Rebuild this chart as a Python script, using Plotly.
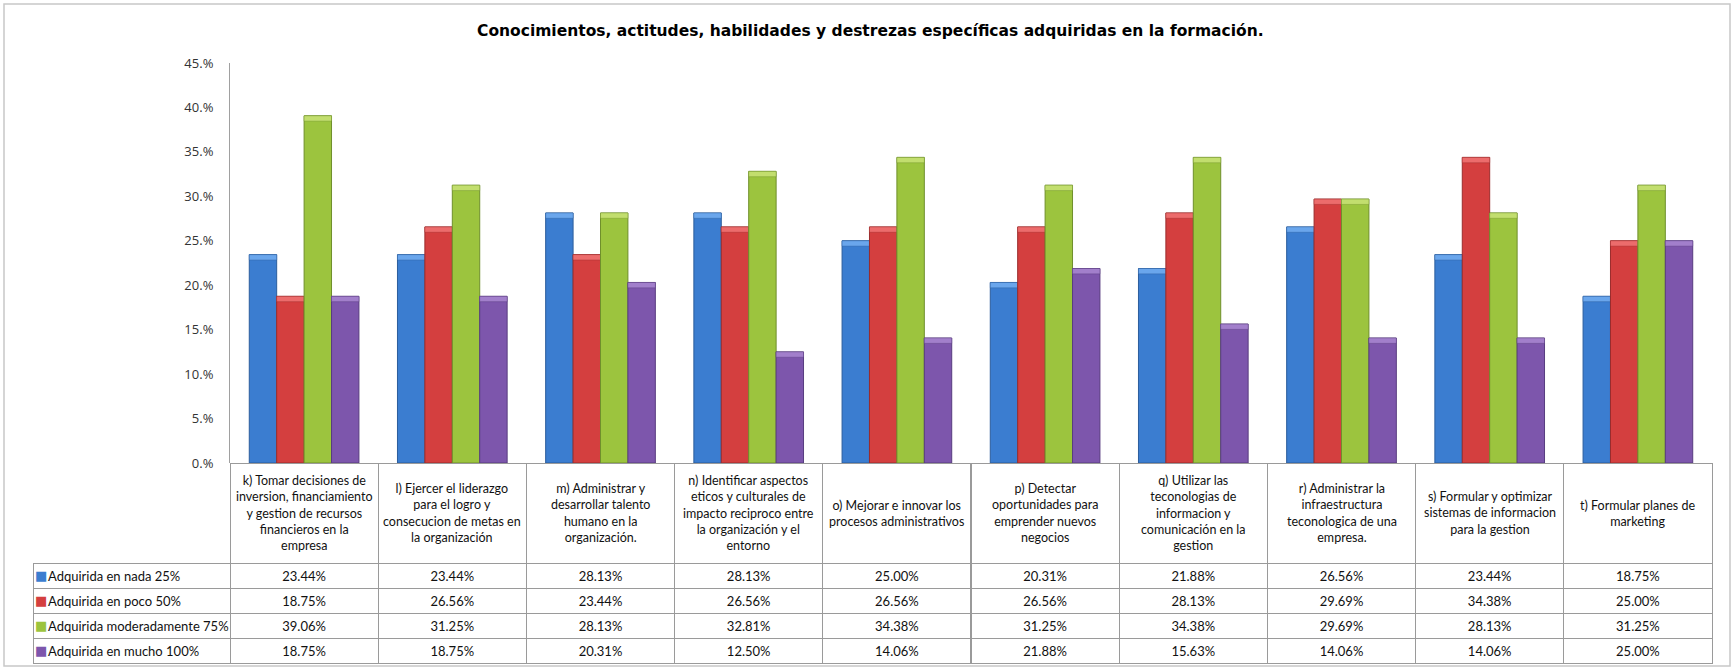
import plotly.graph_objects as go

W, H = 1734, 668

categories = [
    "k) Tomar decisiones de<br>inversion, financiamiento<br>y gestion de recursos<br>financieros en la<br>empresa",
    "l) Ejercer el liderazgo<br>para el logro y<br>consecucion de metas en<br>la organización",
    "m) Administrar y<br>desarrollar talento<br>humano en la<br>organización.",
    "n) Identificar aspectos<br>eticos y culturales de<br>impacto reciproco entre<br>la organización y el<br>entorno",
    "o) Mejorar e innovar los<br>procesos administrativos",
    "p) Detectar<br>oportunidades para<br>emprender nuevos<br>negocios",
    "q) Utilizar las<br>teconologias de<br>informacion y<br>comunicación en la<br>gestion",
    "r) Administrar la<br>infraestructura<br>teconologica de una<br>empresa.",
    "s) Formular y optimizar<br>sistemas de informacion<br>para la gestion",
    "t) Formular planes de<br>marketing",
]

series_names = [
    "Adquirida en nada 25%",
    "Adquirida en poco 50%",
    "Adquirida moderadamente 75%",
    "Adquirida en mucho 100%",
]

nada = [23.44, 23.44, 28.13, 28.13, 25.00, 20.31, 21.88, 26.56, 23.44, 18.75]
poco = [18.75, 26.56, 23.44, 26.56, 26.56, 26.56, 28.13, 29.69, 34.38, 25.00]
moderadamente = [39.06, 31.25, 28.13, 32.81, 34.38, 31.25, 34.38, 29.69, 28.13, 31.25]
mucho = [18.75, 18.75, 20.31, 12.50, 14.06, 21.88, 15.63, 14.06, 14.06, 25.00]

tick_values = [0, 0.05, 0.10, 0.15, 0.20, 0.25, 0.30, 0.35, 0.40, 0.45]
tick_labels = ["0.%", "5.%", "10.%", "15.%", "20.%", "25.%", "30.%", "35.%", "40.%", "45.%"]

title = "Conocimientos, actitudes, habilidades y destrezas específicas adquiridas en la formación."

colors = ["#3B7DD0", "#D43F3F", "#9CC43E", "#7D56AC"]
edge = ["#2B5D9C", "#9A2C2C", "#6F8F2B", "#583C7F"]
caps = ["#6AA6EC", "#EC6C6C", "#C2DE6E", "#A27FCB"]

FONT = "Lato"
Y_MAX = 0.45
CAP = 0.006  # height of the bevel cap, in axis units


def px_x(p):
    return p / W


def px_y(p):
    return 1 - p / H


fig = go.Figure()

all_series = [nada, poco, moderadamente, mucho]
for k, (name, vals, c, e, cp) in enumerate(zip(series_names, all_series, colors, edge, caps)):
    yv = [v / 100 for v in vals]
    fig.add_trace(go.Bar(
        x=categories, y=yv, name=name, offsetgroup=str(k), alignmentgroup="a",
        marker=dict(color=c, line=dict(color=e, width=1)),
        showlegend=False,
    ))
    fig.add_trace(go.Bar(
        x=categories, y=[CAP] * len(yv), base=[v - CAP for v in yv],
        offsetgroup=str(k), alignmentgroup="a", hoverinfo="skip",
        marker=dict(color=cp, line=dict(color=e, width=0.4)),
        showlegend=False,
    ))

# data table geometry
table_left, table_right = 33, 1712
plot_left = 230
axis_y = 463
header_h = 100
row_h = 25
n_rows = len(all_series)
table_bottom = axis_y + header_h + row_h * n_rows
col_w = (table_right - plot_left) / len(categories)
line_c = "#9a9a9a"

cols = [[""] * n_rows]
for i in range(len(categories)):
    cols.append([f"{s[i]:.2f}%" for s in all_series])

fig.add_trace(go.Table(
    domain=dict(x=[px_x(table_left), px_x(table_right)], y=[px_y(table_bottom + 2), px_y(axis_y)]),
    columnwidth=[plot_left - table_left] + [col_w] * len(categories),
    header=dict(values=[""] * (len(categories) + 1), height=header_h,
                line=dict(color=["rgba(0,0,0,0)"] + [line_c] * len(categories), width=1),
                fill=dict(color=["rgba(0,0,0,0)"] + ["white"] * len(categories))),
    cells=dict(values=cols, height=row_h,
               align=["left"] + ["center"] * len(categories),
               line=dict(color=line_c, width=1),
               fill=dict(color="white"),
               font=dict(family=FONT, size=13, color="#111111")),
))

annotations = []
for cat in categories:
    annotations.append(dict(
        x=cat, xref="x", y=px_y(axis_y + header_h / 2), yref="paper", text=cat, showarrow=False,
        yanchor="middle", xanchor="center", align="center",
        font=dict(family=FONT, size=12.5, color="#111111"),
    ))
for i, (n, c) in enumerate(zip(series_names, colors)):
    yc = px_y(axis_y + header_h + row_h * (i + 0.5))
    annotations.append(dict(
        x=px_x(table_left), y=yc, xref="paper", yref="paper", text="■",
        showarrow=False, xanchor="left", yanchor="middle",
        font=dict(family="DejaVu Sans", size=13, color=c),
    ))
    annotations.append(dict(
        x=px_x(table_left + 13), y=yc, xref="paper", yref="paper", text=n,
        showarrow=False, xanchor="left", yanchor="middle",
        font=dict(family=FONT, size=13, color="#111111"),
    ))
annotations.append(dict(
    x=px_x(870), y=px_y(31), xref="paper", yref="paper", text=f"<b>{title}</b>",
    showarrow=False, xanchor="center", yanchor="middle",
    font=dict(family="DejaVu Sans", size=15.5, color="#000000"),
))

fig.update_layout(
    width=W, height=H,
    margin=dict(l=0, r=0, t=0, b=0),
    paper_bgcolor="white", plot_bgcolor="white",
    barmode="group", bargap=0.26, bargroupgap=0,
    annotations=annotations,
    xaxis=dict(domain=[px_x(plot_left), px_x(table_right)], showticklabels=False,
               showgrid=False, zeroline=False, showline=False, ticks="", automargin=False),
    yaxis=dict(domain=[px_y(axis_y), px_y(63)], range=[0, Y_MAX],
               tickvals=tick_values, ticktext=tick_labels,
               showgrid=False, zeroline=False, showline=True, linecolor="#a0a0a0",
               ticks="", ticklabelstandoff=13, automargin=False,
               tickfont=dict(family="Open Sans", size=13, color="#333333")),
    shapes=[dict(type="rect", xref="paper", yref="paper",
                 x0=px_x(4), x1=px_x(1730), y0=px_y(666), y1=px_y(4),
                 line=dict(color="#c8c8c8", width=1.5), layer="below")],
)

post = (
    "document.documentElement.style.margin='0';"
    "document.body.style.margin='0';"
    "document.body.style.overflow='hidden';"
    "var d=document.getElementById('{plot_id}');"
    "d.style.position='fixed';d.style.top='0px';d.style.left='0px';"
)
fig.write_html("out.html", post_script=post, config={"displayModeBar": False})
